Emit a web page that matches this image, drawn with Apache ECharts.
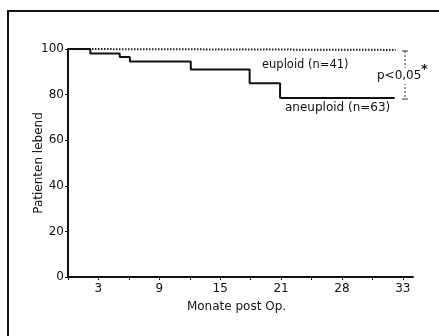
<!DOCTYPE html>
<html>
<head>
<meta charset="utf-8">
<script src="https://cdn.jsdelivr.net/npm/echarts@6/dist/echarts.min.js"></script>
<style>
  html, body { margin: 0; padding: 0; background: #fff; }
  #chart { width: 439px; height: 336px; }
</style>
</head>
<body>
<div id="chart"></div>
<script>
// Kaplan-Meier curves, months post op vs. % patients alive
var aneuploidMonths = [0, 2.2, 5.1, 6.1, 12.1, 17.9, 20.9, 32.2];
var aneuploidAlive  = [100, 98, 96.5, 94.5, 91, 85, 78.5, 78.5];
var euploidMonths = [0, 32.3];
var euploidAlive  = [100, 99.6];
// tick labels as printed (the 5th tick reads "28")
var xTickLabels = { 3: '3', 9: '9', 15: '15', 21: '21', 27: '28', 33: '33' };
var yTicks = [0, 20, 40, 60, 80, 100];

function pairs(xs, ys) {
  return xs.map(function (x, i) { return [x, ys[i]]; });
}

var font = '"DejaVu Sans", Arial, sans-serif';
var chart = echarts.init(document.getElementById('chart'));

chart.setOption({
  animation: false,
  backgroundColor: '#fff',
  grid: { left: 68, top: 49, right: 26, bottom: 59 },
  xAxis: {
    type: 'value',
    min: 0,
    max: 34,
    interval: 3,
    name: 'Monate post Op.',
    nameLocation: 'middle',
    nameGap: 24,
    nameTextStyle: { color: '#111', fontSize: 12, fontFamily: font, padding: [0, 8, 0, 0] },
    axisLine: { lineStyle: { color: '#111', width: 2 } },
    axisTick: { show: true, length: 3, lineStyle: { color: '#111', width: 1 } },
    axisLabel: {
      color: '#111', fontSize: 12, fontFamily: font, margin: 6,
      showMaxLabel: false,
      formatter: function (v) { return xTickLabels[v] || ''; }
    },
    splitLine: { show: false }
  },
  yAxis: {
    type: 'value',
    min: yTicks[0],
    max: yTicks[yTicks.length - 1],
    interval: 20,
    name: 'Patienten lebend',
    nameLocation: 'middle',
    nameGap: 23,
    nameMoveOverlap: false,
    nameTextStyle: { color: '#111', fontSize: 12, fontFamily: font },
    axisLine: { show: true, lineStyle: { color: '#111', width: 2 } },
    axisTick: { show: true, length: 3, lineStyle: { color: '#111', width: 1 } },
    axisLabel: { color: '#111', fontSize: 12, fontFamily: font, margin: 4 },
    splitLine: { show: false }
  },
  series: [
    {
      name: 'euploid',
      type: 'line',
      data: pairs(euploidMonths, euploidAlive),
      symbol: 'none',
      lineStyle: { color: '#222', width: 2, type: [1.5, 1.5] },
      z: 2
    },
    {
      name: 'aneuploid',
      type: 'line',
      step: 'end',
      data: pairs(aneuploidMonths, aneuploidAlive),
      symbol: 'none',
      lineStyle: { color: '#111', width: 2 },
      z: 3
    }
  ],
  graphic: [
    { type: 'rect', shape: { x: 8, y: 11, width: 440, height: 340 },
      style: { fill: 'none', stroke: '#111', lineWidth: 2 } },
    { type: 'line', shape: { x1: 405, y1: 51, x2: 405, y2: 99 },
      style: { stroke: '#333', lineWidth: 1, lineDash: [2, 2] } },
    { type: 'line', shape: { x1: 402, y1: 51, x2: 408, y2: 51 },
      style: { stroke: '#333', lineWidth: 1 } },
    { type: 'line', shape: { x1: 402, y1: 99, x2: 408, y2: 99 },
      style: { stroke: '#333', lineWidth: 1 } },
    { type: 'text', left: 262, top: 59, z: 10,
      style: { text: 'euploid (n=41)', fill: '#111', font: '11.5px ' + font } },
    { type: 'text', left: 285, top: 102, z: 10,
      style: { text: 'aneuploid (n=63)', fill: '#111', font: '12px ' + font } },
    { type: 'text', left: 377, top: 68, z: 10,
      style: { text: 'p<0,05', fill: '#111', font: '12px ' + font,
               backgroundColor: '#fff', padding: [2, 0, 2, 0] } },
    { type: 'text', left: 421, top: 63, z: 10,
      style: { text: '*', fill: '#111', font: 'bold 13px ' + font } }
  ]
});
</script>
</body>
</html>
